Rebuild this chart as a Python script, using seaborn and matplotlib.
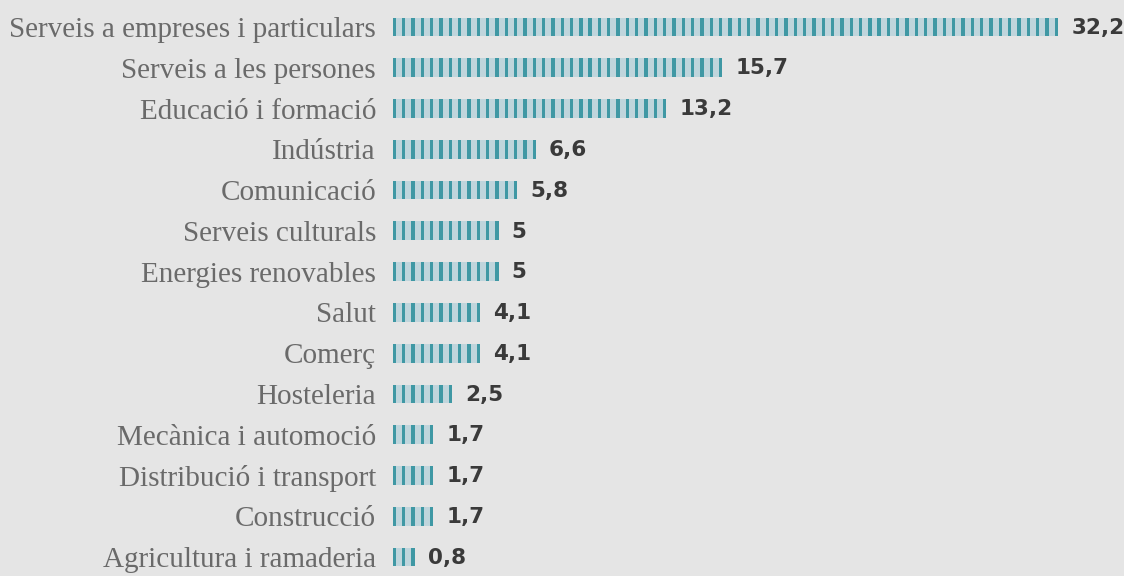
import matplotlib.pyplot as plt
import numpy as np
import pandas as pd
import seaborn as sns

# Data
categories = [
    "Serveis a empreses i particulars",
    "Serveis a les persones",
    "Educació i formació",
    "Indústria",
    "Comunicació",
    "Serveis culturals",
    "Energies renovables",
    "Salut",
    "Comerç",
    "Hosteleria",
    "Mecànica i automoció",
    "Distribució i transport",
    "Construcció",
    "Agricultura i ramaderia",
]
values = [32.2, 15.7, 13.2, 6.6, 5.8, 5, 5, 4.1, 4.1, 2.5, 1.7, 1.7, 1.7, 0.8]
value_labels = [f"{v:g}".replace(".", ",") for v in values]

bg = "#e5e5e5"
light = "#bfd5dc"
dark = "#3f98a4"

sns.set_theme(style="white", rc={"axes.facecolor": bg, "figure.facecolor": bg})

# every bar is a row of thin stripes (pitch / width in data units)
pitch = 0.457
stripe_w = 0.165
pad = 0.6

df = pd.DataFrame({"sector": categories, "value": values})
df["n"] = ((df["value"] + pad - stripe_w) // pitch).astype(int) + 1
df["length"] = (df["n"] - 1) * pitch + stripe_w

fig = plt.figure(figsize=(11.24, 5.76), dpi=100)
ax = fig.add_axes([0.3494, 0, 0.6506, 1])

# light background of each bar
sns.barplot(data=df, x="length", y="sector", orient="h", facecolor=light,
            edgecolor="none", width=0.46, saturation=1, zorder=1, ax=ax)

# dark stripes + value labels
for i, row in df.iterrows():
    starts = np.arange(int(row["n"])) * pitch
    ax.barh(i, stripe_w, left=starts, height=0.46, color=dark,
            align="center", linewidth=0, zorder=2)
    ax.annotate(value_labels[i], xy=(row["length"], i), xytext=(9.5, -0.5),
                textcoords="offset points", va="center", ha="left",
                fontfamily="DejaVu Sans", fontweight="bold", fontsize=15.5,
                color="#3a3a3a")

ax.set_xlim(0, 35.85)
ax.set_ylim(13.466, -0.662)
ax.set_xticks([])
ax.set_xlabel("")
ax.set_ylabel("")
ax.tick_params(axis="y", length=0, pad=12, labelsize=21, labelcolor="#6a6a6a")
for lbl in ax.get_yticklabels():
    lbl.set_fontfamily("Liberation Serif")
sns.despine(ax=ax, left=True, bottom=True)

fig.savefig("out.png", dpi=100, facecolor=bg)
